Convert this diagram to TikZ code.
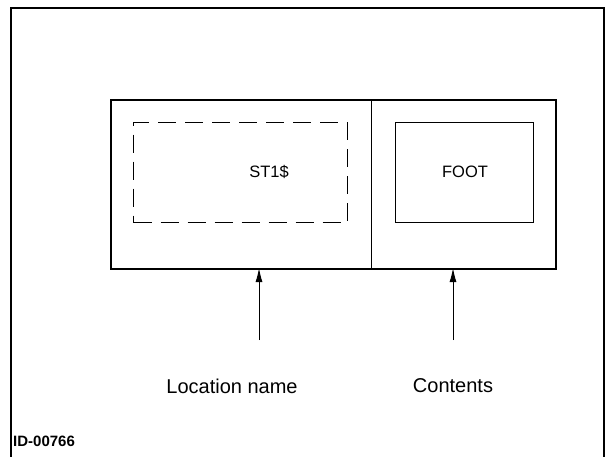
\documentclass[tikz,border=0pt]{standalone}
\usepackage{fontspec}
\setmainfont{Liberation Sans}
\usetikzlibrary{arrows.meta}
\begin{document}
\begin{tikzpicture}[x=1pt,y=-1pt,
  frame/.style={draw,line width=1.2pt},
  mainbox/.style={draw,line width=2pt},
  thin/.style={line width=1pt},
  boxtext/.style={font=\fontsize{16.5}{19}\selectfont},
  label/.style={font=\fontsize{20}{24}\selectfont},
  arr/.style={-{Latex[length=14pt,width=7pt]},line width=1pt}]
\useasboundingbox (0,0) rectangle (607,456);
\draw[frame] (11,470) -- (11,8) -- (604,8) -- (604,470);
\node[mainbox,minimum width=445pt,minimum height=169pt,inner sep=0pt,anchor=north west] (main) at (110,99) {};
\coordinate (divt) at (371,99);
\coordinate (divb) at (371,268);
\draw[thin] (divt) -- (divb);
\node[draw,thin,dash pattern=on 18pt off 9pt,minimum width=214pt,minimum height=100pt,inner sep=0pt,anchor=north west] (loc) at (133,122) {};
\node[boxtext] (st) at (269,172) {ST1\$};
\node[draw,thin,minimum width=138pt,minimum height=100pt,inner sep=0pt,anchor=north west] (cont) at (395,122) {};
\node[boxtext] (foot) at (465,172) {FOOT};
\coordinate (a1) at (259,340);
\coordinate (h1) at (259,268);
\coordinate (a2) at (453,340);
\coordinate (h2) at (453,268);
\draw[arr] (a1) -- (h1);
\draw[arr] (a2) -- (h2);
\node[label] (ln) at (232,386) {Location name};
\node[label] (cn) at (453,386) {Contents};
\node[font=\bfseries\fontsize{15}{17}\selectfont,anchor=west,inner sep=0pt] (id) at (13,441) {ID-00766};
\end{tikzpicture}
\end{document}
